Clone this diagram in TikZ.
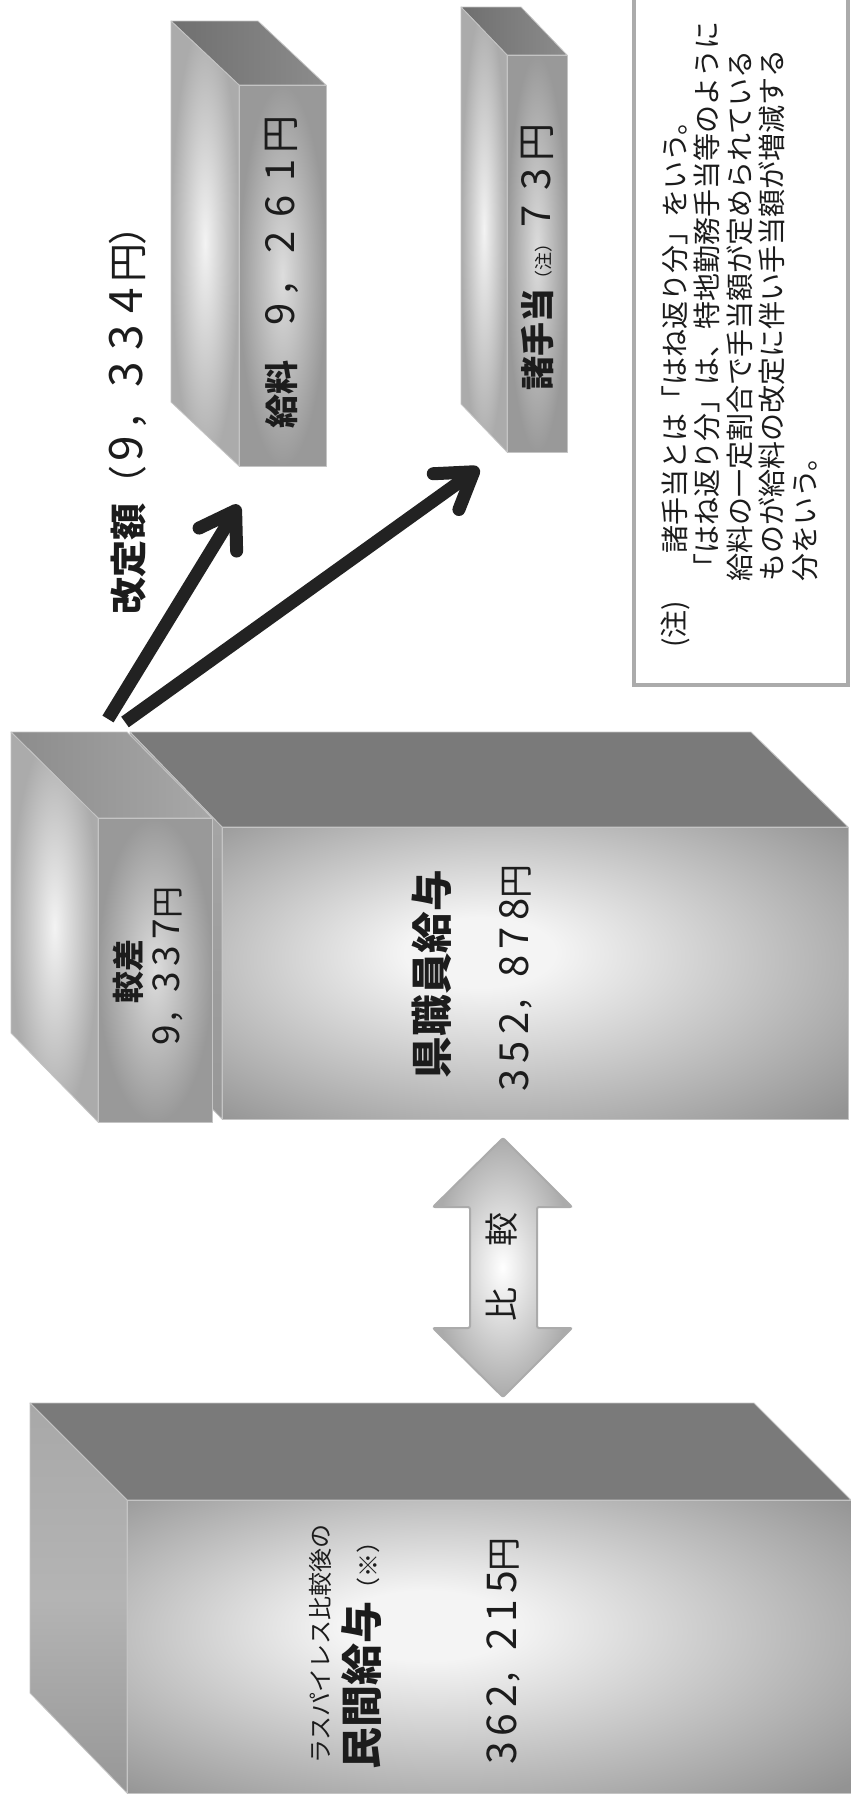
\documentclass[tikz,border=0pt]{standalone}
\usepackage{fontspec}
\setmainfont{Noto Sans CJK JP}
\usetikzlibrary{arrows.meta}
\newcommand\fs[1]{\fontsize{#1}{#1}\selectfont}
\newcommand\cbox[3]{\makebox[#1pt][c]{\fs{#2}#3}}
\newcommand\dd[1]{\cbox{\pw}{\ds}{#1}}
\newcommand\dk[1]{\cbox{\pw}{\ks}{#1}}
\definecolor{topdark}{HTML}{7A7A7A}
\definecolor{topmid}{HTML}{B5B5B5}
\definecolor{frin}{HTML}{F4F4F4}
\definecolor{frout}{HTML}{939393}
\definecolor{sidetop}{HTML}{A8A8A8}
\definecolor{sidemid}{HTML}{B4B4B4}
\definecolor{sidebot}{HTML}{979797}
\definecolor{slabtop}{HTML}{6F6F6F}
\definecolor{slabtop2}{HTML}{8C8C8C}
\definecolor{lightin}{HTML}{F3F3F3}
\definecolor{lightout}{HTML}{ABABAB}
\definecolor{midin}{HTML}{DDDDDD}
\definecolor{midout}{HTML}{999999}
\definecolor{edge}{HTML}{C4C4C4}
\definecolor{notegray}{HTML}{ABABAB}
\definecolor{ink}{HTML}{1C1C1C}
\definecolor{arrowink}{HTML}{222222}
\pgfdeclareradialshading{wideradial}{\pgfpoint{-5bp}{4bp}}{color(0bp)=(frin); color(6bp)=(frin); color(36bp)=(frout); color(50bp)=(frout)}
\begin{document}
\begin{tikzpicture}[x=1pt,y=-1pt,
  face/.style={draw=edge, line width=0.8pt, line join=round},
  front/.style={face, shading=wideradial},
  txt/.style={rotate=90, inner sep=0pt, text=ink},
  bigarrow/.style={draw=arrowink, line width=13pt, -{Straight Barb[length=34pt,width=44pt,round]}},
  notebox/.style={draw=notegray, line width=4pt, fill=white},
  cmparrow/.style={draw=notegray, line width=2pt, rounded corners=2pt, inner color=white, outer color=lightout}
]
\useasboundingbox (0,0) rectangle (851,1796);
\fill[white] (0,0) rectangle (851,1796);

% ---------- note box ----------
\draw[notebox] (634,-20) rectangle (848,685);
\node[txt, anchor=west] (n0) at (675,648) {\fs{28}(注)};
\node[txt, anchor=west] (n1) at (675,554) {\fs{28}諸手当とは「はね返り分」をいう。};
\node[txt, anchor=west] (n2) at (707,582) {\fs{28}「はね返り分」は、特地勤務手当等のように};
\node[txt, anchor=west] (n3) at (740,582) {\fs{28}給料の一定割合で手当額が定められている};
\node[txt, anchor=west] (n4) at (772,582) {\fs{28}ものが給料の改定に伴い手当額が増減する};
\node[txt, anchor=west] (n5) at (805,582) {\fs{28}分をいう。};

% ---------- slab 給料 ----------
\shade[face, left color=slabtop, right color=slabtop2] (171,21) -- (258,21) -- (326,85) -- (239,85) -- cycle;
\shade[face, inner color=lightin, outer color=lightout] (171,21) -- (239,85) -- (239,466) -- (171,402) -- cycle;
\shade[face, inner color=midin, outer color=midout] (239,85) rectangle (326,466);
\node[txt, anchor=west] (kyuryo) at (282,429) {{\bfseries\fs{34}給料}\kern28pt{\def\pw{36}\def\ds{40}\def\ks{38}\dd9\dk{，}\dd2\dd6\dd1\dk{円}}};

% ---------- slab 諸手当 ----------
\shade[face, left color=slabtop, right color=slabtop2] (461,7) -- (521,7) -- (567,55) -- (507,55) -- cycle;
\shade[face, inner color=lightin, outer color=lightout] (461,7) -- (507,55) -- (507,452) -- (461,404) -- cycle;
\shade[face, inner color=midin, outer color=midout] (507,55) rectangle (567,452);
\node[txt, anchor=west] (teate) at (537,391) {{\bfseries\fs{34}諸手当}{\fs{18}（注）}{\def\pw{37}\def\ds{40}\def\ks{38}\dd7\dd3\dk{円}}};

% ---------- heading ----------
\node[txt, anchor=west] (kaitei) at (128,615) {{\bfseries\fs{37}改定額}{\def\pw{37}\def\ds{46}\def\ks{39}\dk{（}\dd9\dk{，}\dd3\dd3\dd4\dk{円}\dk{）}}};

% ---------- box 県職員給与 ----------
\shade[face, left color=topdark, middle color=topmid, right color=topdark] (130,732) -- (751,732) -- (848,827) -- (222,827) -- cycle;
\shade[face, top color=sidetop, bottom color=sidebot] (130,732) -- (222,827) -- (222,1119) -- (130,1024) -- cycle;
\shade[front] (222,827) rectangle (848,1119);
\node[txt] (kenlabel) at (432,974) {\bfseries\fs{41.6}県職員給与};
\node[txt] (kenval) at (516,981) {\def\pw{28.5}\def\ds{40}\def\ks{34}\dd3\dd5\dd2\dk{，}\dd8\dd7\dd8\dk{円}};

% ---------- box 較差 ----------
\shade[face, left color=slabtop2, right color=sidetop] (11,732) -- (127,732) -- (212,818) -- (98,818) -- cycle;
\shade[face, inner color=lightin, outer color=lightout] (11,732) -- (98,818) -- (98,1122) -- (11,1033) -- cycle;
\shade[face, inner color=midin, outer color=midout] (98,818) rectangle (212,1122);
\node[txt] (kakusa) at (128,971) {\bfseries\fs{32}較差};
\node[txt] (kakusaval) at (168,969) {\def\pw{26.5}\def\ds{37}\def\ks{32}\dd9\dk{，}\dd3\dd3\dd7\dk{円}};

% ---------- box 民間給与 ----------
\shade[face, left color=topdark, middle color=topmid, right color=topdark] (30,1403) -- (754,1403) -- (851,1500) -- (127,1500) -- cycle;
\shade[face, top color=sidetop, bottom color=sidebot, middle color=sidemid] (30,1403) -- (127,1500) -- (127,1793) -- (30,1693) -- cycle;
\shade[front] (127,1500) rectangle (851,1793);
\node[txt, anchor=west] (lasp) at (320,1764) {\fs{24}ラスパイレス比較後の};
\node[txt, anchor=west] (minkan) at (362,1770) {{\bfseries\fs{42}民間給与}{\fs{24}（※）}};
\node[txt, anchor=west] (minval) at (503,1768) {\def\pw{28.5}\def\ds{41}\def\ks{34}\dd3\dd6\dd2\dk{，}\dd2\dd1\dd5\dk{円}};

% ---------- comparison arrow ----------
\shade[cmparrow] (503,1138) -- (572,1207) -- (537,1207) -- (537,1328) -- (572,1328) -- (503,1397) -- (433,1328) -- (470,1328) -- (470,1207) -- (433,1207) -- cycle;
\node[txt] (hikaku) at (502,1267) {\fs{34}比\kern41pt較};

% ---------- revision arrows ----------
\coordinate (t1) at (108,719);
\coordinate (h1) at (239,505);
\coordinate (t2) at (125,722);
\coordinate (h2) at (479,468);
\draw[bigarrow] (t1) -- (h1);
\draw[bigarrow] (t2) -- (h2);
\end{tikzpicture}
\end{document}
